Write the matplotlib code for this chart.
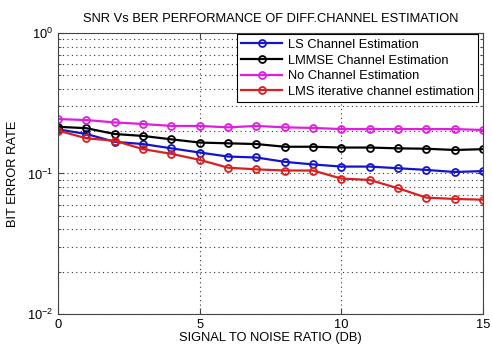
import matplotlib
matplotlib.use('Agg')
import matplotlib.pyplot as plt
import numpy as np

plt.rcParams['font.family'] = ['Liberation Sans', 'DejaVu Sans']
plt.rcParams['mathtext.fontset'] = 'custom'
plt.rcParams['mathtext.rm'] = 'Liberation Sans'

snr = list(range(16))
ber_ls = [0.206, 0.191, 0.168, 0.162, 0.151, 0.141, 0.132, 0.130,
          0.121, 0.116, 0.112, 0.112, 0.109, 0.106, 0.1025, 0.104]
ber_lmmse = [0.215, 0.210, 0.191, 0.185, 0.175, 0.166, 0.164, 0.162,
             0.155, 0.155, 0.153, 0.153, 0.151, 0.150, 0.147, 0.149]
ber_none = [0.244, 0.240, 0.231, 0.225, 0.218, 0.218, 0.213, 0.218,
            0.213, 0.211, 0.207, 0.207, 0.207, 0.207, 0.207, 0.204]
ber_lms = [0.202, 0.178, 0.171, 0.149, 0.138, 0.125, 0.110, 0.107,
           0.105, 0.105, 0.092, 0.090, 0.0785, 0.0673, 0.0659, 0.0651]

labels = ['LS Channel Estimation', 'LMMSE Channel Estimation',
          'No Channel Estimation', 'LMS iterative channel estimation']
colors = ['#1414c8', '#000000', '#e01ee0', '#d82020']

fig = plt.figure(figsize=(4.92, 3.47), dpi=100)
ax = fig.add_axes([0.118, 0.095, 0.864, 0.81])

for y, lab, c in zip([ber_ls, ber_lmmse, ber_none, ber_lms], labels, colors):
    ax.semilogy(snr, y, '-o', color=c, lw=1.6, markersize=5,
                markerfacecolor='none', markeredgewidth=1.3, label=lab)

ax.set_xlim(0, 15)
ax.set_ylim(1e-2, 1e0)
ax.set_xticks([0, 5, 10, 15])
grid_style = dict(linestyle=(0, (1, 3)), color='#333333', lw=0.8)
ax.grid(True, which='major', axis='x', **grid_style)
ax.grid(True, which='both', axis='y', **grid_style)
ax.tick_params(which='both', direction='in', top=True, right=True, labelsize=9.3,
               color='#444444')
ax.tick_params(which='major', length=4)
ax.tick_params(which='minor', length=2)
for s in ax.spines.values():
    s.set_color('#444444')

ax.set_title('SNR Vs BER PERFORMANCE OF DIFF.CHANNEL ESTIMATION', fontsize=9.3, pad=8)
ax.set_xlabel('SIGNAL TO NOISE RATIO (DB)', fontsize=9.3, labelpad=1)
ax.set_ylabel('BIT ERROR RATE', fontsize=9.3, labelpad=6)

leg = ax.legend(loc='upper right', bbox_to_anchor=(0.988, 0.995), fontsize=9.3,
                fancybox=False, edgecolor='black', framealpha=1,
                handlelength=3.2, borderpad=0.35, labelspacing=0.28,
                handletextpad=0.4, borderaxespad=0)
leg.get_frame().set_linewidth(0.8)

fig.savefig('out.png', dpi=100)
